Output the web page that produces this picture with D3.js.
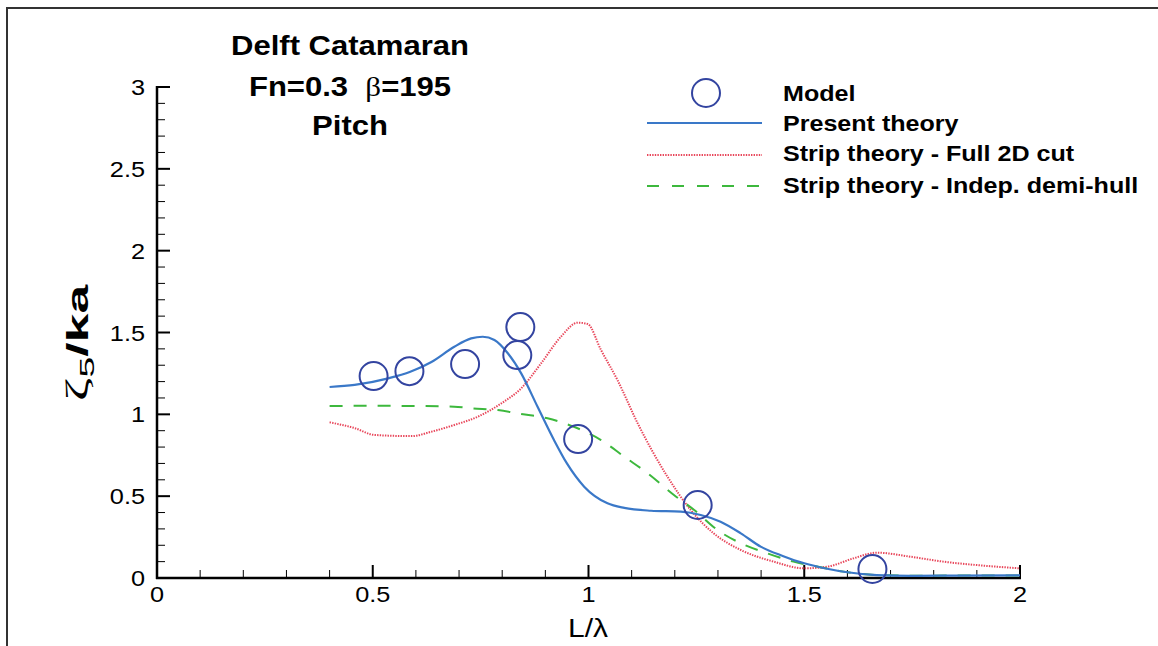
<!DOCTYPE html>
<html>
<head>
<meta charset="utf-8">
<script src="https://cdn.jsdelivr.net/npm/d3@7"></script>
<style>
  html, body { margin: 0; padding: 0; background: #fff; }
  svg { display: block; font-family: "Liberation Sans", Arial, sans-serif; }
</style>
</head>
<body>
<svg id="chart" width="1158" height="646"></svg>
<script>
// Pitch response of the Delft catamaran, Fn = 0.3, beta = 195 deg
const modelX = [0.502, 0.585, 0.714, 0.842, 0.835, 0.976, 1.253, 1.658];
const modelY = [1.234, 1.264, 1.307, 1.533, 1.362, 0.849, 0.446, 0.055];

const presentX = [0.40, 0.458, 0.536, 0.587, 0.636, 0.689, 0.728, 0.755, 0.782, 0.813, 0.844, 0.882, 0.92, 0.95, 0.99, 1.044, 1.083, 1.145, 1.214, 1.26, 1.306, 1.353, 1.40, 1.45, 1.50, 1.55, 1.60, 1.668, 1.746, 1.85, 2.0];
const presentY = [1.167, 1.18, 1.22, 1.26, 1.32, 1.413, 1.464, 1.474, 1.454, 1.373, 1.25, 1.046, 0.843, 0.70, 0.558, 0.456, 0.428, 0.411, 0.405, 0.385, 0.344, 0.273, 0.19, 0.135, 0.09, 0.058, 0.035, 0.018, 0.013, 0.015, 0.016];

const stripFullX = [0.40, 0.458, 0.504, 0.59, 0.636, 0.689, 0.743, 0.798, 0.844, 0.89, 0.936, 0.975, 0.998, 1.029, 1.067, 1.114, 1.183, 1.237, 1.29, 1.353, 1.429, 1.499, 1.553, 1.614, 1.668, 1.746, 1.822, 1.90, 2.0];
const stripFullY = [0.951, 0.916, 0.874, 0.867, 0.894, 0.935, 0.985, 1.067, 1.159, 1.311, 1.474, 1.56, 1.552, 1.393, 1.21, 0.945, 0.619, 0.415, 0.273, 0.171, 0.10, 0.059, 0.069, 0.12, 0.155, 0.13, 0.10, 0.079, 0.059];

const stripDemiX = [0.40, 0.50, 0.613, 0.689, 0.728, 0.79, 0.844, 0.905, 0.966, 1.029, 1.083, 1.137, 1.198, 1.245, 1.299, 1.353, 1.414, 1.475, 1.53, 1.591, 1.668, 1.75, 1.85, 2.0];
const stripDemiY = [1.051, 1.052, 1.051, 1.047, 1.037, 1.026, 1.002, 0.976, 0.924, 0.843, 0.741, 0.64, 0.507, 0.415, 0.293, 0.212, 0.151, 0.10, 0.07, 0.039, 0.018, 0.014, 0.015, 0.016];

const xTicks = [0, 0.5, 1, 1.5, 2];
const yTicks = [0, 0.5, 1, 1.5, 2, 2.5, 3];
const legendLabels = ["Model", "Present theory", "Strip theory - Full 2D cut", "Strip theory - Indep. demi-hull"];

const svg = d3.select("#chart");
const WIDE = 1.15; // horizontal stretch of the wide sans lettering

// text placed at (x, y) and stretched horizontally about its anchor
function label(parent, x, y, opts) {
  const g = parent.append("g").attr("transform", `translate(${x},${y}) scale(${opts.sx || WIDE},1)`);
  return g.append("text").attr("x", 0).attr("y", 0)
    .attr("text-anchor", opts.anchor || "start")
    .attr("font-size", opts.size).attr("font-weight", opts.weight || "normal")
    .attr("fill", "#000");
}

// plot frame
const plotL = 157, plotR = 1020, plotT = 87, plotB = 578;
const x = d3.scaleLinear().domain([0, 2]).range([plotL, plotR]);
const y = d3.scaleLinear().domain([0, 3]).range([plotB, plotT]);

// outer page border (top and left edges)
svg.append("path")
  .attr("d", "M7,646 V8 H1158")
  .attr("fill", "none").attr("stroke", "#333").attr("stroke-width", 2);

// ticks drawn inward: majors every 0.5, minors every 0.1
const isMajor = v => Math.abs(v * 2 - Math.round(v * 2)) < 1e-6;
const minorX = d3.range(1, 20).map(i => i / 10).filter(v => !isMajor(v));
const minorY = d3.range(1, 30).map(i => i / 10).filter(v => !isMajor(v));

const axisG = svg.append("g").attr("stroke", "#000");
axisG.selectAll(".mx").data(minorX).join("line")
  .attr("x1", d => x(d)).attr("x2", d => x(d))
  .attr("y1", plotB).attr("y2", plotB - 8).attr("stroke-width", 1);
axisG.selectAll(".my").data(minorY).join("line")
  .attr("x1", plotL).attr("x2", plotL + 8)
  .attr("y1", d => y(d)).attr("y2", d => y(d)).attr("stroke-width", 1);
axisG.selectAll(".Mx").data(xTicks).join("line")
  .attr("x1", d => x(d)).attr("x2", d => x(d))
  .attr("y1", plotB).attr("y2", plotB - 13).attr("stroke-width", 2);
axisG.selectAll(".My").data(yTicks).join("line")
  .attr("x1", plotL).attr("x2", plotL + 13)
  .attr("y1", d => y(d)).attr("y2", d => y(d)).attr("stroke-width", 2);
axisG.append("line").attr("x1", plotL).attr("x2", plotL).attr("y1", plotT - 1).attr("y2", plotB + 1).attr("stroke-width", 2.5);
axisG.append("line").attr("x1", plotL - 1).attr("x2", plotR + 1).attr("y1", plotB).attr("y2", plotB).attr("stroke-width", 2.5);

// tick labels
xTicks.forEach(v => label(svg, x(v), plotB + 24, { size: 22, anchor: "middle" }).text(d3.format("~g")(v)));
yTicks.forEach(v => label(svg, plotL - 12, y(v) + 8, { size: 22, anchor: "end" }).text(d3.format("~g")(v)));

// axis titles
label(svg, 588, 637, { size: 25, anchor: "middle", sx: 1.2 }).text("L/\u03BB");

const ytG = svg.append("g").attr("transform", "translate(88,343) rotate(-90)");
const yt = ytG.append("text").attr("text-anchor", "middle").attr("font-size", 29).attr("fill", "#000");
yt.append("tspan").attr("font-family", "'Liberation Serif', serif").attr("font-size", 32).text("\u03B6");
yt.append("tspan").attr("font-size", 21).attr("dy", 6).text("5");
yt.append("tspan").attr("font-weight", "bold").attr("dy", -6).text("/ka");
{
  const w = yt.node().getBBox().width;
  yt.attr("transform", `scale(${118 / w},1)`);
}

// chart title
label(svg, 350, 55, { size: 27, anchor: "middle", weight: "bold" }).text("Delft Catamaran");
const t2 = label(svg, 350, 96, { size: 27, anchor: "middle", weight: "bold" }).attr("xml:space", "preserve");
t2.append("tspan").text("Fn=0.3  ");
t2.append("tspan").attr("font-family", "'Liberation Serif', serif").attr("font-weight", "normal").text("\u03B2");
t2.append("tspan").text("=195");
label(svg, 350, 135, { size: 27, anchor: "middle", weight: "bold" }).text("Pitch");

// series
const line = d3.line().x(d => x(d[0])).y(d => y(d[1])).curve(d3.curveMonotoneX);
const zip = (a, b) => a.map((v, i) => [v, b[i]]);

const styles = {
  full: { stroke: "#e8465a", width: 2, dash: "1.4,1.2" },
  demi: { stroke: "#3db83d", width: 2, dash: "13,11" },
  present: { stroke: "#3a78c8", width: 2.2, dash: null },
  model: "#3344a0"
};

svg.append("path").datum(zip(stripFullX, stripFullY)).attr("d", line)
  .attr("fill", "none").attr("stroke", styles.full.stroke).attr("stroke-width", styles.full.width)
  .attr("stroke-dasharray", styles.full.dash);
svg.append("path").datum(zip(stripDemiX, stripDemiY)).attr("d", line)
  .attr("fill", "none").attr("stroke", styles.demi.stroke).attr("stroke-width", styles.demi.width)
  .attr("stroke-dasharray", styles.demi.dash);
svg.append("path").datum(zip(presentX, presentY)).attr("d", line)
  .attr("fill", "none").attr("stroke", styles.present.stroke).attr("stroke-width", styles.present.width);

svg.selectAll(".model").data(zip(modelX, modelY)).join("circle")
  .attr("cx", d => x(d[0])).attr("cy", d => y(d[1])).attr("r", 14)
  .attr("fill", "none").attr("stroke", styles.model).attr("stroke-width", 2);

// legend
const lgX0 = 647, lgX1 = 762, lgText = 783;
const textY = [101, 131, 161, 193];
svg.append("circle").attr("cx", 706).attr("cy", 93).attr("r", 14)
  .attr("fill", "none").attr("stroke", styles.model).attr("stroke-width", 2);
[[styles.present, 123], [styles.full, 155], [styles.demi, 186]].forEach(([s, ly]) => {
  svg.append("line").attr("x1", lgX0).attr("x2", lgX1).attr("y1", ly).attr("y2", ly)
    .attr("stroke", s.stroke).attr("stroke-width", s.width)
    .attr("stroke-dasharray", s === styles.demi ? "12,13" : s.dash);
});
legendLabels.forEach((t, i) => label(svg, lgText, textY[i], { size: 22, weight: "bold", sx: 1.14 }).text(t));
</script>
</body>
</html>
